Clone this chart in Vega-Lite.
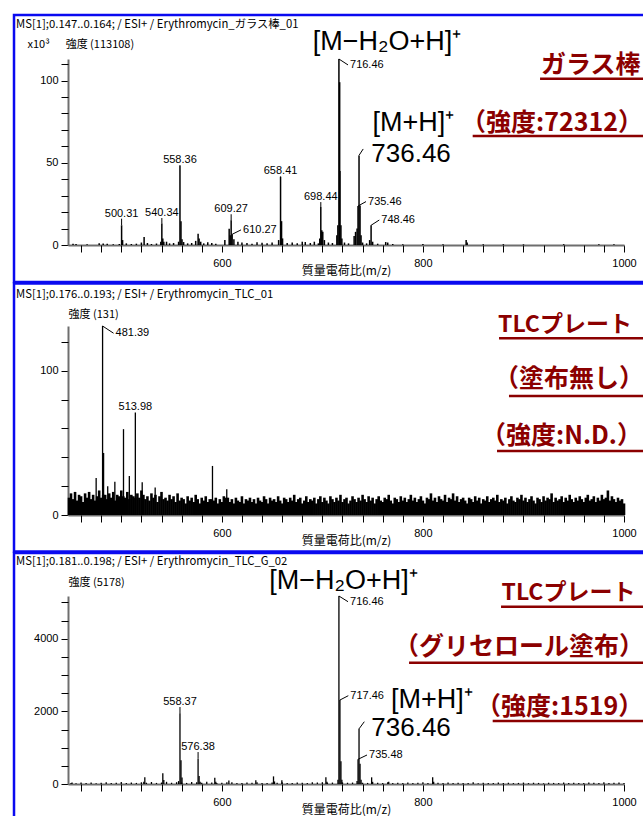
{
  "$schema": "https://vega.github.io/schema/vega-lite/v6.json",
  "background": "white",
  "padding": {"left": 12, "top": 13, "right": 0, "bottom": 0},
  "spacing": 81,
  "bounds": "flush",
  "config": {
    "view": {"stroke": null},
    "axis": {"grid": false, "domainColor": "#6e6e6e", "domainWidth": 2, "tickColor": "#000000", "tickSize": 7, "tickWidth": 1, "labelFont": "Liberation Sans", "labelFontSize": 11, "labelColor": "#000000", "titleFont": "Noto Sans CJK JP", "titleFontWeight": "normal", "titleColor": "#000000", "zindex": 1}
  },
  "datasets": {
    "s1": [
      {"mz":452,"i":0.8},{"mz":455,"i":0.6},{"mz":466,"i":0.5},{"mz":478,"i":1.0},{"mz":482,"i":0.9},{"mz":486,"i":0.7},{"mz":492,"i":0.5},{"mz":498,"i":0.6},
      {"mz":500.31,"i":12},{"mz":501.3,"i":3},{"mz":505,"i":1.0},{"mz":510,"i":0.6},{"mz":515,"i":0.8},{"mz":520,"i":1.5},{"mz":522.7,"i":4.9},{"mz":526,"i":1.2},{"mz":530,"i":0.6},{"mz":535,"i":0.9},
      {"mz":539.3,"i":2},{"mz":540.34,"i":13},{"mz":541.3,"i":4},{"mz":542.3,"i":2},{"mz":545,"i":2.0},{"mz":548,"i":1.0},{"mz":552,"i":1.2},{"mz":557,"i":2},
      {"mz":558.36,"i":48.3},{"mz":559.36,"i":14.5},{"mz":560.4,"i":3.5},{"mz":562,"i":1.8},{"mz":566,"i":1.0},{"mz":570,"i":1.2},{"mz":574,"i":2.5},{"mz":576.4,"i":6.9},{"mz":577.4,"i":4.0},{"mz":579,"i":2.0},
      {"mz":582,"i":1.0},{"mz":586,"i":1.6},{"mz":590,"i":1.2},{"mz":594,"i":0.8},{"mz":603,"i":3.0},{"mz":607.3,"i":9.9},{"mz":608.3,"i":6},{"mz":609.27,"i":15},{"mz":610.27,"i":6.5},{"mz":612,"i":3.5},
      {"mz":616,"i":2.0},{"mz":620,"i":1.5},{"mz":625,"i":1.2},{"mz":630,"i":0.8},{"mz":635,"i":1.6},{"mz":640,"i":1.4},{"mz":645,"i":1.0},{"mz":650,"i":1.5},{"mz":656.5,"i":3.0},
      {"mz":658.41,"i":41.5},{"mz":659.4,"i":14.5},{"mz":660.4,"i":4.0},{"mz":665,"i":1.2},{"mz":670,"i":1.5},{"mz":675,"i":1.0},{"mz":680,"i":2.0},{"mz":683,"i":1.8},{"mz":688,"i":1.2},{"mz":692,"i":2.0},{"mz":696,"i":1.0},
      {"mz":697.4,"i":4},{"mz":698.44,"i":23.1},{"mz":699.4,"i":9},{"mz":700.4,"i":8},{"mz":702,"i":3},{"mz":706,"i":1.5},{"mz":710,"i":1.2},
      {"mz":714.4,"i":6},{"mz":715.4,"i":12},{"mz":716.46,"i":113.108},{"mz":717.2,"i":99},{"mz":717.46,"i":45},{"mz":718.46,"i":12},{"mz":719.4,"i":4},{"mz":722,"i":1.5},{"mz":726,"i":1.0},
      {"mz":731.6,"i":5.5},{"mz":733,"i":8},{"mz":734.5,"i":10},{"mz":735.46,"i":23.7},{"mz":736.46,"i":54.5},{"mz":737.46,"i":24},{"mz":738.46,"i":6},{"mz":740,"i":1.5},{"mz":744,"i":1.0},
      {"mz":747,"i":3},{"mz":748.46,"i":12},{"mz":750,"i":2},{"mz":755,"i":0.8},{"mz":763,"i":1.8},{"mz":765,"i":1.5},{"mz":770,"i":0.6},{"mz":780,"i":0.5},{"mz":800,"i":0.6},{"mz":820,"i":0.5},
      {"mz":843,"i":3},{"mz":844,"i":1.5},{"mz":860,"i":0.5},{"mz":880,"i":0.5},{"mz":900,"i":0.4},{"mz":940,"i":0.5},{"mz":975,"i":0.4},{"mz":990,"i":0.5}
    ],
    "c1": [
      {"mz":500.31,"i":12,"lb":16.0,"t":"500.31"},{"mz":540.34,"i":13,"lb":16.4,"t":"540.34"},{"mz":558.36,"i":48.3,"lb":48.6,"t":"558.36"},
      {"mz":609.27,"i":15,"lb":18.7,"t":"609.27"},{"mz":658.41,"i":41.5,"lb":41.8,"t":"658.41"},{"mz":698.44,"i":23.1,"lb":26.1,"t":"698.44"}
    ],
    "r1": [
      {"mz":610.27,"i":6.5,"lx":619.1,"ly":9.2,"t":"610.27"},{"mz":716.46,"i":113.108,"lx":725.5,"ly":109.5,"t":"716.46"},
      {"mz":735.46,"i":23.7,"lx":743.4,"ly":26.4,"t":"735.46"},{"mz":748.46,"i":12,"lx":756.6,"ly":15.2,"t":"748.46"},
      {"mz":736.46,"i":54.5,"lx":740.6,"ly":58.4,"t":""}
    ],
    "f1": [{"mz":764.3,"y":118.4,"t":"[M−H₂O+H]⁺"},{"mz":790.6,"y":69.3,"t":"[M+H]⁺"}],
    "g1": [{"mz":788.2,"y":50.2,"t":"736.46"}],
    "m1": [
      {"x":917.5,"y":109.5,"t":"ガラス棒","u0":916.5,"uy":101.1},
      {"x":837.9,"y":74.2,"t":"（強度:72312）","u0":849.5,"uy":66.3}
    ],
    "n2": [
      {"mz":448,"i":12},{"mz":450,"i":15},{"mz":452,"i":11},{"mz":454,"i":16},{"mz":456,"i":10},{"mz":458,"i":14},{"mz":460,"i":13},{"mz":462,"i":9},{"mz":464,"i":15},{"mz":466,"i":12},
      {"mz":468,"i":16},{"mz":470,"i":11},{"mz":472,"i":14},{"mz":474,"i":10},{"mz":476,"i":13},{"mz":478,"i":17},{"mz":480,"i":12},{"mz":482,"i":14},{"mz":484,"i":14},{"mz":486,"i":11},
      {"mz":488,"i":15},{"mz":490,"i":12},{"mz":492,"i":16},{"mz":494,"i":10},{"mz":496,"i":14},{"mz":498,"i":13},{"mz":500,"i":17},{"mz":502,"i":13},{"mz":504,"i":12},{"mz":506,"i":16},
      {"mz":508,"i":11},{"mz":510,"i":14},{"mz":512,"i":13},{"mz":514,"i":12},{"mz":516,"i":15},{"mz":518,"i":12},{"mz":520,"i":17},{"mz":522,"i":14},{"mz":524,"i":11},{"mz":526,"i":13},
      {"mz":528,"i":10},{"mz":530,"i":15},{"mz":532,"i":12},{"mz":534,"i":14},{"mz":536,"i":9},{"mz":538,"i":13},{"mz":540,"i":16},{"mz":542,"i":11},{"mz":544,"i":12},{"mz":546,"i":10},
      {"mz":548,"i":14},{"mz":550,"i":11},{"mz":552,"i":13},{"mz":554,"i":9},{"mz":556,"i":15},{"mz":558,"i":10},{"mz":560,"i":12},
      {"mz":562,"i":11},{"mz":564,"i":8},{"mz":566,"i":13},{"mz":568,"i":10},{"mz":570,"i":12},{"mz":572,"i":9},{"mz":574,"i":14},{"mz":576,"i":11},{"mz":578,"i":8},{"mz":580,"i":12},
      {"mz":582,"i":10},{"mz":584,"i":13},{"mz":586,"i":9},{"mz":588,"i":11},{"mz":590,"i":11},{"mz":592,"i":10},{"mz":594,"i":12},{"mz":596,"i":8},{"mz":598,"i":11},{"mz":600,"i":9},
      {"mz":602,"i":13},{"mz":604,"i":12},{"mz":606,"i":12},{"mz":608,"i":9},{"mz":610,"i":11},{"mz":612,"i":8},{"mz":614,"i":12},{"mz":616,"i":10},{"mz":618,"i":9},{"mz":620,"i":13},
      {"mz":622,"i":8},{"mz":624,"i":11},{"mz":626,"i":10},{"mz":628,"i":12},{"mz":630,"i":9},{"mz":632,"i":11},{"mz":634,"i":8},{"mz":636,"i":12},{"mz":638,"i":10},{"mz":640,"i":9},
      {"mz":642,"i":13},{"mz":644,"i":11},{"mz":646,"i":8},{"mz":648,"i":12},{"mz":650,"i":10},{"mz":652,"i":11},{"mz":654,"i":9},{"mz":656,"i":13},{"mz":658,"i":10},{"mz":660,"i":8},
      {"mz":662,"i":12},{"mz":664,"i":11},{"mz":666,"i":9},{"mz":668,"i":12},{"mz":670,"i":10},{"mz":672,"i":14},{"mz":674,"i":9},{"mz":676,"i":11},{"mz":678,"i":12},{"mz":680,"i":8},
      {"mz":682,"i":10},{"mz":684,"i":13},{"mz":686,"i":9},{"mz":688,"i":11},{"mz":690,"i":10},{"mz":692,"i":12},{"mz":694,"i":8},{"mz":696,"i":11},{"mz":698,"i":13},{"mz":700,"i":9},
      {"mz":702,"i":12},{"mz":704,"i":10},{"mz":706,"i":8},{"mz":708,"i":13},{"mz":710,"i":11},{"mz":712,"i":9},{"mz":714,"i":12},{"mz":716,"i":10},{"mz":718,"i":14},{"mz":720,"i":9},
      {"mz":722,"i":11},{"mz":724,"i":12},{"mz":726,"i":8},{"mz":728,"i":10},{"mz":730,"i":13},{"mz":732,"i":11},{"mz":734,"i":9},{"mz":736,"i":12},{"mz":738,"i":10},{"mz":740,"i":14},
      {"mz":742,"i":11},{"mz":744,"i":9},{"mz":746,"i":13},{"mz":748,"i":10},{"mz":750,"i":12},{"mz":752,"i":8},{"mz":754,"i":11},{"mz":756,"i":13},{"mz":758,"i":10},{"mz":760,"i":9},
      {"mz":762,"i":12},{"mz":764,"i":11},{"mz":766,"i":14},{"mz":768,"i":10},{"mz":770,"i":8},{"mz":772,"i":12},{"mz":774,"i":11},{"mz":776,"i":9},{"mz":778,"i":13},{"mz":780,"i":10},
      {"mz":782,"i":12},{"mz":784,"i":9},{"mz":786,"i":11},{"mz":788,"i":14},{"mz":790,"i":10},{"mz":792,"i":12},{"mz":794,"i":9},{"mz":796,"i":11},{"mz":798,"i":13},{"mz":800,"i":10},
      {"mz":802,"i":8},{"mz":804,"i":12},{"mz":806,"i":11},{"mz":808,"i":15},{"mz":810,"i":10},{"mz":812,"i":12},{"mz":814,"i":9},{"mz":816,"i":13},{"mz":818,"i":11},{"mz":820,"i":10},
      {"mz":822,"i":14},{"mz":824,"i":9},{"mz":826,"i":12},{"mz":828,"i":11},{"mz":830,"i":15},{"mz":832,"i":10},{"mz":834,"i":13},{"mz":836,"i":9},{"mz":838,"i":11},{"mz":840,"i":12},
      {"mz":842,"i":10},{"mz":844,"i":8},{"mz":846,"i":12},{"mz":848,"i":11},{"mz":850,"i":9},{"mz":852,"i":13},{"mz":854,"i":10},{"mz":856,"i":12},{"mz":858,"i":8},{"mz":860,"i":11},
      {"mz":862,"i":10},{"mz":864,"i":13},{"mz":866,"i":9},{"mz":868,"i":11},{"mz":870,"i":12},{"mz":872,"i":10},{"mz":874,"i":14},{"mz":876,"i":9},{"mz":878,"i":11},{"mz":880,"i":10},
      {"mz":882,"i":12},{"mz":884,"i":8},{"mz":886,"i":11},{"mz":888,"i":13},{"mz":890,"i":10},{"mz":892,"i":9},{"mz":894,"i":12},{"mz":896,"i":11},{"mz":898,"i":14},{"mz":900,"i":10},
      {"mz":902,"i":12},{"mz":904,"i":9},{"mz":906,"i":11},{"mz":908,"i":13},{"mz":910,"i":10},{"mz":912,"i":8},{"mz":914,"i":12},{"mz":916,"i":11},{"mz":918,"i":9},{"mz":920,"i":13},
      {"mz":922,"i":10},{"mz":924,"i":12},{"mz":926,"i":11},{"mz":928,"i":15},{"mz":930,"i":9},{"mz":932,"i":12},{"mz":934,"i":10},{"mz":936,"i":11},{"mz":938,"i":13},{"mz":940,"i":9},
      {"mz":942,"i":12},{"mz":944,"i":10},{"mz":946,"i":14},{"mz":948,"i":11},{"mz":950,"i":9},{"mz":952,"i":12},{"mz":954,"i":10},{"mz":956,"i":13},{"mz":958,"i":11},{"mz":960,"i":9},
      {"mz":962,"i":12},{"mz":964,"i":14},{"mz":966,"i":10},{"mz":968,"i":11},{"mz":970,"i":13},{"mz":972,"i":9},{"mz":974,"i":12},{"mz":976,"i":10},{"mz":978,"i":14},{"mz":980,"i":11},
      {"mz":982,"i":12},{"mz":984,"i":17},{"mz":986,"i":10},{"mz":988,"i":13},{"mz":990,"i":11},{"mz":992,"i":9},{"mz":994,"i":12},{"mz":996,"i":10},{"mz":998,"i":11},{"mz":1000,"i":8}
    ],
    "s2": [
      {"mz":475,"i":25.6},{"mz":481.39,"i":131},{"mz":482.4,"i":43},{"mz":486.5,"i":20},{"mz":493.6,"i":23},{"mz":502.2,"i":59.5},{"mz":508,"i":27},
      {"mz":513.98,"i":71},{"mz":520.8,"i":22.7},{"mz":533.7,"i":19},{"mz":590.7,"i":34},{"mz":604.9,"i":17.8}
    ],
    "c2": [{"mz":513.98,"i":71,"lb":71.3,"t":"513.98"}],
    "r2": [{"mz":481.39,"i":131,"lx":492.3,"ly":126,"t":"481.39"}],
    "m2": [
      {"x":874.7,"y":131.7,"t":"TLCプレート","u0":875.7,"uy":122.5},
      {"x":870.7,"y":94.3,"t":"（塗布無し）","u0":885.6,"uy":82.5},
      {"x":857.8,"y":54.8,"t":"（強度:N.D.）","u0":873.7,"uy":44.4}
    ],
    "s3": [
      {"mz":450,"i":30},{"mz":455,"i":22},{"mz":460,"i":38},{"mz":465,"i":25},{"mz":470,"i":42},{"mz":475,"i":20},{"mz":480,"i":33},{"mz":485,"i":45},{"mz":490,"i":28},{"mz":495,"i":35},
      {"mz":500,"i":52},{"mz":505,"i":26},{"mz":510,"i":38},{"mz":515,"i":30},{"mz":520,"i":48},{"mz":525,"i":35},{"mz":530,"i":55},{"mz":535,"i":30},{"mz":540,"i":40},{"mz":545,"i":60},
      {"mz":550,"i":35},{"mz":555,"i":50},{"mz":560,"i":40},{"mz":565,"i":30},{"mz":570,"i":55},{"mz":575,"i":45},{"mz":580,"i":35},{"mz":585,"i":60},{"mz":590,"i":40},{"mz":595,"i":30},
      {"mz":600,"i":35},{"mz":605,"i":45},{"mz":610,"i":50},{"mz":615,"i":30},{"mz":620,"i":25},{"mz":625,"i":40},{"mz":630,"i":35},{"mz":635,"i":45},{"mz":640,"i":30},{"mz":645,"i":25},
      {"mz":650,"i":40},{"mz":655,"i":35},{"mz":660,"i":45},{"mz":665,"i":30},{"mz":670,"i":25},{"mz":675,"i":40},{"mz":680,"i":35},{"mz":685,"i":30},{"mz":690,"i":45},{"mz":695,"i":40},
      {"mz":700,"i":50},{"mz":705,"i":35},{"mz":710,"i":40},{"mz":720,"i":45},{"mz":725,"i":35},{"mz":730,"i":40},{"mz":740,"i":35},{"mz":745,"i":30},
      {"mz":755,"i":35},{"mz":760,"i":30},{"mz":765,"i":45},{"mz":770,"i":25},{"mz":775,"i":35},{"mz":780,"i":30},{"mz":785,"i":40},{"mz":790,"i":25},{"mz":795,"i":35},{"mz":800,"i":45},
      {"mz":805,"i":30},{"mz":815,"i":35},{"mz":820,"i":25},{"mz":825,"i":40},{"mz":830,"i":30},{"mz":835,"i":35},{"mz":840,"i":25},{"mz":845,"i":30},{"mz":850,"i":45},{"mz":855,"i":20},
      {"mz":860,"i":35},{"mz":865,"i":30},{"mz":870,"i":25},{"mz":875,"i":40},{"mz":880,"i":30},{"mz":885,"i":35},{"mz":890,"i":25},{"mz":895,"i":30},{"mz":900,"i":40},{"mz":905,"i":25},
      {"mz":910,"i":35},{"mz":915,"i":30},{"mz":920,"i":20},{"mz":925,"i":35},{"mz":930,"i":30},{"mz":935,"i":25},{"mz":940,"i":40},{"mz":945,"i":30},{"mz":950,"i":35},{"mz":955,"i":25},
      {"mz":960,"i":30},{"mz":965,"i":40},{"mz":970,"i":35},{"mz":975,"i":30},{"mz":980,"i":45},{"mz":985,"i":30},{"mz":990,"i":35},{"mz":995,"i":40},{"mz":1000,"i":30},
      {"mz":451,"i":40},{"mz":522.4,"i":60},{"mz":523.4,"i":184},{"mz":541.3,"i":294},{"mz":542.3,"i":110},{"mz":557,"i":80},{"mz":558.37,"i":1947},{"mz":559.37,"i":652},{"mz":560.4,"i":180},
      {"mz":576.38,"i":697},{"mz":577.4,"i":220},{"mz":578.4,"i":60},{"mz":593,"i":175},{"mz":594,"i":60},{"mz":607,"i":95},{"mz":633.8,"i":105},{"mz":651.4,"i":210},{"mz":652.4,"i":70},
      {"mz":659.7,"i":105},{"mz":703.5,"i":184},{"mz":704.5,"i":60},{"mz":715.5,"i":120},{"mz":716.46,"i":5178},{"mz":717.46,"i":2313},{"mz":718.46,"i":625},{"mz":719.4,"i":120},
      {"mz":734.5,"i":80},{"mz":735.48,"i":680},{"mz":736.46,"i":1519},{"mz":737.46,"i":560},{"mz":738.5,"i":120},{"mz":749,"i":184},{"mz":750,"i":60},{"mz":766,"i":60},{"mz":809.7,"i":184},{"mz":810.7,"i":60}
    ],
    "c3": [{"mz":558.37,"i":1947,"lb":2120,"t":"558.37"},{"mz":576.38,"i":697,"lb":880,"t":"576.38"}],
    "r3": [
      {"mz":716.46,"i":5178,"lx":725.5,"ly":5021,"t":"716.46"},{"mz":717.46,"i":2313,"lx":725.8,"ly":2432,"t":"717.46"},
      {"mz":735.48,"i":680,"lx":744.4,"ly":799,"t":"735.48"},{"mz":736.46,"i":1519,"lx":741.7,"ly":1716,"t":""}
    ],
    "f3": [{"mz":721.0,"y":5371,"t":"[M−H₂O+H]⁺"},{"mz":808.8,"y":2101,"t":"[M+H]⁺"}],
    "g3": [{"mz":788.2,"y":1322,"t":"736.46"}],
    "m3": [
      {"x":878.2,"y":5274,"t":"TLCプレート","u0":877.7,"uy":4883},
      {"x":771.2,"y":3773,"t":"（グリセロール塗布）","u0":786.2,"uy":3341},
      {"x":852.8,"y":2121,"t":"（強度:1519）","u0":869.4,"uy":1735}
    ]
  },
  "vconcat": [
    {
      "width": 556, "height": 186,
      "resolve": {"axis": {"x": "independent", "y": "independent"}},
      "layer": [
        {"data": {"name": "s1"}, "mark": {"type": "rule", "strokeWidth": 1.5, "color": "#000000"},
         "encoding": {
           "x": {"field": "mz", "type": "quantitative", "scale": {"domain": [447, 1000], "nice": false, "zero": false},
                 "axis": {"orient": "bottom", "values": [600, 800, 1000], "format": "d", "labelPadding": 5, "labelFlush": false, "title": "質量電荷比(m/z)", "titleFontSize": 12, "titleY": 25, "titleBaseline": "middle"}},
           "y": {"field": "i", "type": "quantitative", "scale": {"domain": [0, 113.108], "nice": false, "zero": false},
                 "axis": {"orient": "left", "values": [0, 50, 100], "format": "d", "labelPadding": 3, "title": "x10³　\u00a0\u00a0強度 (113108)", "titleAngle": 0, "titleAlign": "left", "titleBaseline": "middle", "titleX": -41, "titleY": -15, "titleFontSize": 11}},
           "y2": {"datum": 0}
         }},
        {"data": {"name": "c1"}, "mark": {"type": "rule", "strokeWidth": 1, "color": "#000000", "clip": false},
         "encoding": {"x": {"field": "mz", "type": "quantitative", "axis": null}, "y": {"field": "i", "type": "quantitative", "axis": null}, "y2": {"field": "lb"}}},
        {"data": {"name": "c1"}, "mark": {"type": "text", "align": "center", "baseline": "bottom", "font": "Liberation Sans", "fontSize": 11, "color": "#000000", "clip": false},
         "encoding": {"x": {"field": "mz", "type": "quantitative", "axis": null}, "y": {"field": "lb", "type": "quantitative", "axis": null}, "text": {"field": "t"}}},
        {"data": {"name": "r1"}, "mark": {"type": "rule", "strokeWidth": 1, "color": "#000000", "clip": false},
         "encoding": {"x": {"field": "mz", "type": "quantitative", "axis": null}, "y": {"field": "i", "type": "quantitative", "axis": null}, "x2": {"field": "lx"}, "y2": {"field": "ly"}}},
        {"data": {"name": "r1"}, "mark": {"type": "text", "align": "left", "baseline": "middle", "dx": 2, "font": "Liberation Sans", "fontSize": 11, "color": "#000000", "clip": false},
         "encoding": {"x": {"field": "lx", "type": "quantitative", "axis": null}, "y": {"field": "ly", "type": "quantitative", "axis": null}, "text": {"field": "t"}}},
        {"data": {"name": "f1"}, "mark": {"type": "text", "align": "center", "baseline": "alphabetic", "font": "Liberation Sans", "fontSize": 27, "color": "#000000", "clip": false},
         "encoding": {"x": {"field": "mz", "type": "quantitative", "axis": null}, "y": {"field": "y", "type": "quantitative", "axis": null}, "text": {"field": "t"}}},
        {"data": {"name": "g1"}, "mark": {"type": "text", "align": "center", "baseline": "alphabetic", "font": "Liberation Sans", "fontSize": 26, "color": "#000000", "clip": false},
         "encoding": {"x": {"field": "mz", "type": "quantitative", "axis": null}, "y": {"field": "y", "type": "quantitative", "axis": null}, "text": {"field": "t"}}},
        {"data": {"name": "m1"}, "mark": {"type": "text", "align": "left", "baseline": "middle", "font": "Noto Sans CJK JP", "fontWeight": "bold", "fontSize": 25, "color": "#8b0000", "clip": false},
         "encoding": {"x": {"field": "x", "type": "quantitative", "axis": null}, "y": {"field": "y", "type": "quantitative", "axis": null}, "text": {"field": "t"}}},
        {"data": {"name": "m1"}, "mark": {"type": "rule", "strokeWidth": 2.5, "color": "#8b0000", "clip": false},
         "encoding": {"x": {"field": "u0", "type": "quantitative", "axis": null}, "x2": {"datum": 1030}, "y": {"field": "uy", "type": "quantitative", "axis": null}}},
        {"data": {"values": [{"x": 395.3, "y": 133.8, "t": "MS[1];0.147..0.164; / ESI+ / Erythromycin_ガラス棒_01"}]}, "mark": {"type": "text", "align": "left", "baseline": "middle", "font": "Noto Sans CJK JP", "fontSize": 11.3, "color": "#000000", "clip": false},
         "encoding": {"x": {"field": "x", "type": "quantitative", "axis": null}, "y": {"field": "y", "type": "quantitative", "axis": null}, "text": {"field": "t"}}},
        {"data": {"values": [{}]}, "mark": {"type": "rect", "fill": "transparent", "fillOpacity": 0, "stroke": "#0a0af0", "strokeWidth": 2.5, "clip": false},
         "encoding": {
           "x": {"datum": 393.3, "type": "quantitative", "axis": {"orient": "bottom", "values": [460,480,500,520,540,560,580,620,640,660,680,700,720,740,760,780,820,840,860,880,900,920,940,960,980], "labels": false, "domain": false, "title": null}},
           "x2": {"datum": 1030},
           "y": {"datum": 139.9, "type": "quantitative", "axis": {"orient": "left", "values": [10,20,30,40,60,70,80,90,110], "labels": false, "domain": false, "title": null}},
           "y2": {"datum": -22.5}}}
      ]
    },
    {
      "width": 556, "height": 189,
      "resolve": {"axis": {"x": "independent", "y": "independent"}},
      "layer": [
        {"data": {"name": "n2"}, "mark": {"type": "rule", "strokeWidth": 2.6, "color": "#000000"},
         "encoding": {"x": {"field": "mz", "type": "quantitative", "axis": null}, "y": {"field": "i", "type": "quantitative", "axis": null}, "y2": {"datum": 0}}},
        {"data": {"name": "s2"}, "mark": {"type": "rule", "strokeWidth": 1.3, "color": "#000000"},
         "encoding": {
           "x": {"field": "mz", "type": "quantitative", "scale": {"domain": [447, 1000], "nice": false, "zero": false},
                 "axis": {"orient": "bottom", "values": [600, 800, 1000], "format": "d", "labelPadding": 5, "labelFlush": false, "title": "質量電荷比(m/z)", "titleFontSize": 12, "titleY": 25, "titleBaseline": "middle"}},
           "y": {"field": "i", "type": "quantitative", "scale": {"domain": [0, 131], "nice": false, "zero": false},
                 "axis": {"orient": "left", "values": [0, 100], "format": "d", "labelPadding": 3, "title": "強度 (131)", "titleAngle": 0, "titleAlign": "left", "titleBaseline": "middle", "titleX": 0, "titleY": -12, "titleFontSize": 11}},
           "y2": {"datum": 0}
         }},
        {"data": {"name": "c2"}, "mark": {"type": "text", "align": "center", "baseline": "bottom", "font": "Liberation Sans", "fontSize": 11, "color": "#000000", "clip": false},
         "encoding": {"x": {"field": "mz", "type": "quantitative", "axis": null}, "y": {"field": "lb", "type": "quantitative", "axis": null}, "text": {"field": "t"}}},
        {"data": {"name": "r2"}, "mark": {"type": "rule", "strokeWidth": 1, "color": "#000000", "clip": false},
         "encoding": {"x": {"field": "mz", "type": "quantitative", "axis": null}, "y": {"field": "i", "type": "quantitative", "axis": null}, "x2": {"field": "lx"}, "y2": {"field": "ly"}}},
        {"data": {"name": "r2"}, "mark": {"type": "text", "align": "left", "baseline": "middle", "dx": 2, "font": "Liberation Sans", "fontSize": 11, "color": "#000000", "clip": false},
         "encoding": {"x": {"field": "lx", "type": "quantitative", "axis": null}, "y": {"field": "ly", "type": "quantitative", "axis": null}, "text": {"field": "t"}}},
        {"data": {"name": "m2"}, "transform": [{"filter": "datum.t !== 'TLCプレート'"}], "mark": {"type": "text", "align": "left", "baseline": "middle", "font": "Noto Sans CJK JP", "fontWeight": "bold", "fontSize": 25, "color": "#8b0000", "clip": false},
         "encoding": {"x": {"field": "x", "type": "quantitative", "axis": null}, "y": {"field": "y", "type": "quantitative", "axis": null}, "text": {"field": "t"}}},
        {"data": {"name": "m2"}, "transform": [{"filter": "datum.t === 'TLCプレート'"}], "mark": {"type": "text", "align": "left", "baseline": "middle", "font": "Noto Sans CJK JP", "fontWeight": "bold", "fontSize": 23, "color": "#8b0000", "clip": false},
         "encoding": {"x": {"field": "x", "type": "quantitative", "axis": null}, "y": {"field": "y", "type": "quantitative", "axis": null}, "text": {"field": "t"}}},
        {"data": {"name": "m2"}, "mark": {"type": "rule", "strokeWidth": 2.5, "color": "#8b0000", "clip": false},
         "encoding": {"x": {"field": "u0", "type": "quantitative", "axis": null}, "x2": {"datum": 1030}, "y": {"field": "uy", "type": "quantitative", "axis": null}}},
        {"data": {"values": [{"x": 395.3, "y": 152.5, "t": "MS[1];0.176..0.193; / ESI+ / Erythromycin_TLC_01"}]}, "mark": {"type": "text", "align": "left", "baseline": "middle", "font": "Noto Sans CJK JP", "fontSize": 11.3, "color": "#000000", "clip": false},
         "encoding": {"x": {"field": "x", "type": "quantitative", "axis": null}, "y": {"field": "y", "type": "quantitative", "axis": null}, "text": {"field": "t"}}},
        {"data": {"values": [{}]}, "mark": {"type": "rect", "fill": "transparent", "fillOpacity": 0, "stroke": "#0a0af0", "strokeWidth": 2.5, "clip": false},
         "encoding": {
           "x": {"datum": 393.3, "type": "quantitative", "axis": {"orient": "bottom", "values": [460,480,500,520,540,560,580,620,640,660,680,700,720,740,760,780,820,840,860,880,900,920,940,960,980], "labels": false, "domain": false, "title": null}},
           "x2": {"datum": 1030},
           "y": {"datum": 160.5, "type": "quantitative", "axis": {"orient": "left", "values": [20,40,60,80,120], "labels": false, "domain": false, "title": null}},
           "y2": {"datum": -25.3}}}
      ]
    },
    {
      "width": 556, "height": 188,
      "resolve": {"axis": {"x": "independent", "y": "independent"}},
      "layer": [
        {"data": {"name": "s3"}, "mark": {"type": "rule", "strokeWidth": 1.3, "color": "#000000"},
         "encoding": {
           "x": {"field": "mz", "type": "quantitative", "scale": {"domain": [447, 1000], "nice": false, "zero": false},
                 "axis": {"orient": "bottom", "values": [600, 800, 1000], "format": "d", "labelPadding": 5, "labelFlush": false, "title": "質量電荷比(m/z)", "titleFontSize": 12, "titleY": 25, "titleBaseline": "middle"}},
           "y": {"field": "i", "type": "quantitative", "scale": {"domain": [0, 5178], "nice": false, "zero": false},
                 "axis": {"orient": "left", "values": [0, 2000, 4000], "format": "d", "labelPadding": 3, "title": "強度 (5178)", "titleAngle": 0, "titleAlign": "left", "titleBaseline": "middle", "titleX": 0, "titleY": -14, "titleFontSize": 11}},
           "y2": {"datum": 0}
         }},
        {"data": {"name": "c3"}, "mark": {"type": "rule", "strokeWidth": 1, "color": "#000000", "clip": false},
         "encoding": {"x": {"field": "mz", "type": "quantitative", "axis": null}, "y": {"field": "i", "type": "quantitative", "axis": null}, "y2": {"field": "lb"}}},
        {"data": {"name": "c3"}, "mark": {"type": "text", "align": "center", "baseline": "bottom", "font": "Liberation Sans", "fontSize": 11, "color": "#000000", "clip": false},
         "encoding": {"x": {"field": "mz", "type": "quantitative", "axis": null}, "y": {"field": "lb", "type": "quantitative", "axis": null}, "text": {"field": "t"}}},
        {"data": {"name": "r3"}, "mark": {"type": "rule", "strokeWidth": 1, "color": "#000000", "clip": false},
         "encoding": {"x": {"field": "mz", "type": "quantitative", "axis": null}, "y": {"field": "i", "type": "quantitative", "axis": null}, "x2": {"field": "lx"}, "y2": {"field": "ly"}}},
        {"data": {"name": "r3"}, "mark": {"type": "text", "align": "left", "baseline": "middle", "dx": 2, "font": "Liberation Sans", "fontSize": 11, "color": "#000000", "clip": false},
         "encoding": {"x": {"field": "lx", "type": "quantitative", "axis": null}, "y": {"field": "ly", "type": "quantitative", "axis": null}, "text": {"field": "t"}}},
        {"data": {"name": "f3"}, "mark": {"type": "text", "align": "center", "baseline": "alphabetic", "font": "Liberation Sans", "fontSize": 27, "color": "#000000", "clip": false},
         "encoding": {"x": {"field": "mz", "type": "quantitative", "axis": null}, "y": {"field": "y", "type": "quantitative", "axis": null}, "text": {"field": "t"}}},
        {"data": {"name": "g3"}, "mark": {"type": "text", "align": "center", "baseline": "alphabetic", "font": "Liberation Sans", "fontSize": 26, "color": "#000000", "clip": false},
         "encoding": {"x": {"field": "mz", "type": "quantitative", "axis": null}, "y": {"field": "y", "type": "quantitative", "axis": null}, "text": {"field": "t"}}},
        {"data": {"name": "m3"}, "transform": [{"filter": "datum.t !== 'TLCプレート'"}], "mark": {"type": "text", "align": "left", "baseline": "middle", "font": "Noto Sans CJK JP", "fontWeight": "bold", "fontSize": 25, "color": "#8b0000", "clip": false},
         "encoding": {"x": {"field": "x", "type": "quantitative", "axis": null}, "y": {"field": "y", "type": "quantitative", "axis": null}, "text": {"field": "t"}}},
        {"data": {"name": "m3"}, "transform": [{"filter": "datum.t === 'TLCプレート'"}], "mark": {"type": "text", "align": "left", "baseline": "middle", "font": "Noto Sans CJK JP", "fontWeight": "bold", "fontSize": 23, "color": "#8b0000", "clip": false},
         "encoding": {"x": {"field": "x", "type": "quantitative", "axis": null}, "y": {"field": "y", "type": "quantitative", "axis": null}, "text": {"field": "t"}}},
        {"data": {"name": "m3"}, "mark": {"type": "rule", "strokeWidth": 2.5, "color": "#8b0000", "clip": false},
         "encoding": {"x": {"field": "u0", "type": "quantitative", "axis": null}, "x2": {"datum": 1030}, "y": {"field": "uy", "type": "quantitative", "axis": null}}},
        {"data": {"values": [{"x": 395.3, "y": 6123, "t": "MS[1];0.181..0.198; / ESI+ / Erythromycin_TLC_G_02"}]}, "mark": {"type": "text", "align": "left", "baseline": "middle", "font": "Noto Sans CJK JP", "fontSize": 11.3, "color": "#000000", "clip": false},
         "encoding": {"x": {"field": "x", "type": "quantitative", "axis": null}, "y": {"field": "y", "type": "quantitative", "axis": null}, "text": {"field": "t"}}},
        {"data": {"values": [{}]}, "mark": {"type": "rect", "fill": "transparent", "fillOpacity": 0, "stroke": "#0a0af0", "strokeWidth": 2.5, "clip": false},
         "encoding": {
           "x": {"datum": 393.3, "type": "quantitative", "axis": {"orient": "bottom", "values": [460,480,500,520,540,560,580,620,640,660,680,700,720,740,760,780,820,840,860,880,900,920,940,960,980], "labels": false, "domain": false, "title": null}},
           "x2": {"datum": 1030},
           "y": {"datum": 6362, "type": "quantitative", "axis": {"orient": "left", "values": [500,1000,1500,2500,3000,3500,4500,5000], "labels": false, "domain": false, "title": null}},
           "y2": {"datum": -1432}}}
      ]
    }
  ]
}
